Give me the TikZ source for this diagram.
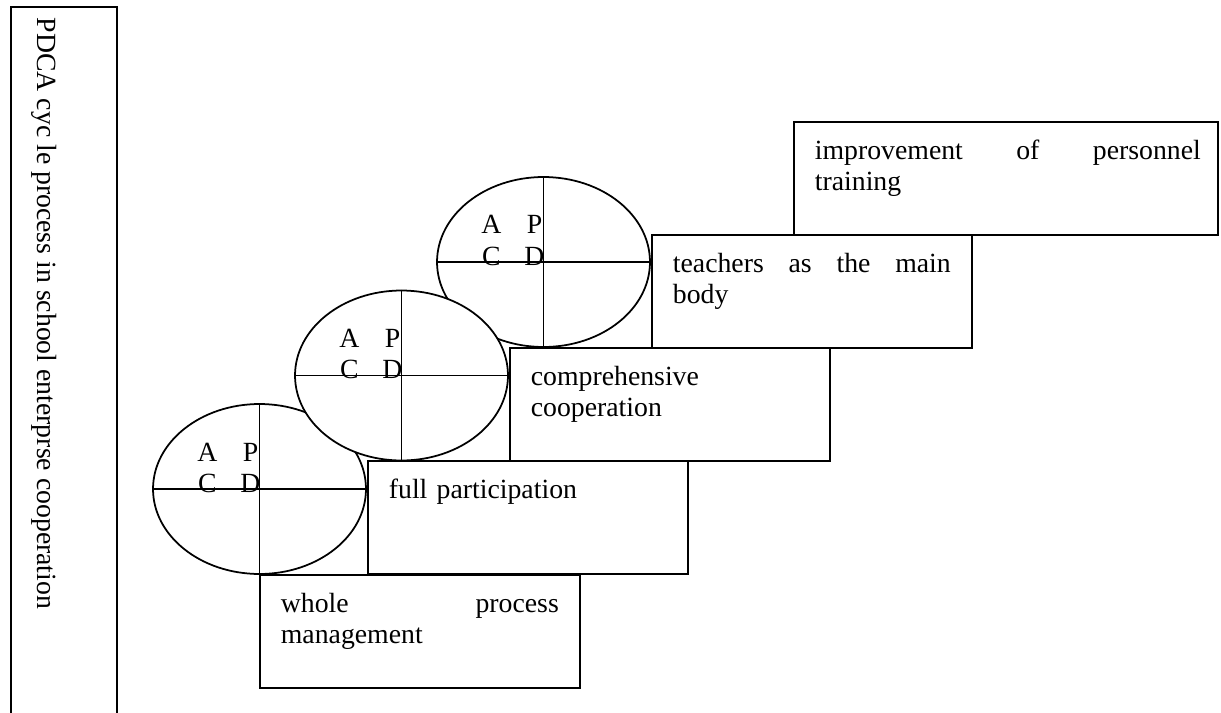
\documentclass[tikz,border=0pt]{standalone}
\usepackage{fontspec}
\setmainfont{Liberation Serif}
\usetikzlibrary{shapes.geometric}
\setlength{\parindent}{0pt}
\newcommand{\jgap}{\hskip 0pt plus 1filll\relax}

\begin{document}
\begin{tikzpicture}[x=0.02cm, y=-0.02cm, line width=1pt,
        every node/.style={font=\fontsize{15.8pt}{17.6pt}\selectfont, inner sep=0pt},
        pdca/.style={draw, ellipse, fill=white, minimum width=4.26cm, minimum height=3.4cm},
        stage/.style={draw, anchor=north west, minimum width=6.4cm, minimum height=2.26cm},
        stagetext/.style={anchor=north west, text width=5.56cm, align=left}]
        \useasboundingbox (0,0) rectangle (1221,713);

        % side bar
        \draw (11,730) -- (11,7) -- (117,7) -- (117,730);
        \node (side) at (37,17) [rotate = -90, anchor = base west] {PDCA cyc le process in school enterprse cooperation};

        % cycles, the middle one lies on top
        \node (c1) at (259.5,489) [pdca] {};
        \draw (c1.west) -- (c1.east);
        \draw (c1.north) -- (c1.south);
        \node (a1) at (207.5,461) [anchor = base] {A};
        \node (p1) at (250.5,461) [anchor = base] {P};
        \node (cc1) at (207.5,492) [anchor = base] {C};
        \node (d1) at (250.5,492) [anchor = base] {D};

        \node (c3) at (543.5,262) [pdca] {};
        \draw (c3.west) -- (c3.east);
        \draw (c3.north) -- (c3.south);
        \node (a3) at (491.5,234) [anchor = base] {A};
        \node (p3) at (534.5,234) [anchor = base] {P};
        \node (cc3) at (491.5,265) [anchor = base] {C};
        \node (d3) at (534.5,265) [anchor = base] {D};

        \node (c2) at (401.5,375.5) [pdca] {};
        \draw (c2.west) -- (c2.east);
        \draw (c2.north) -- (c2.south);
        \node (a2) at (349.5,347.5) [anchor = base] {A};
        \node (p2) at (392.5,347.5) [anchor = base] {P};
        \node (cc2) at (349.5,378.5) [anchor = base] {C};
        \node (d2) at (392.5,378.5) [anchor = base] {D};

        % stages
        \node (b1) at (259,574) [stage] {};
        \node (b2) at (367,460) [stage] {};
        \node (b3) at (509,347) [stage] {};
        \node (b4) at (651,234) [stage] {};
        \node (b5) at (793,121) [stage, minimum width = 8.48cm] {};

        \node (t1) at (280,592) [stagetext] {whole\jgap process\\management};
        \node (t2) at (388,478) [stagetext] {full participation};
        \node (t3) at (530,365) [stagetext] {comprehensive\\cooperation};
        \node (t4) at (672,252) [stagetext] {teachers\jgap as\jgap the\jgap main\\body};
        \node (t5) at (814,139) [stagetext, text width = 7.72cm] {improvement\jgap of\jgap personnel\\training};
    \end{tikzpicture}
\end{document}
